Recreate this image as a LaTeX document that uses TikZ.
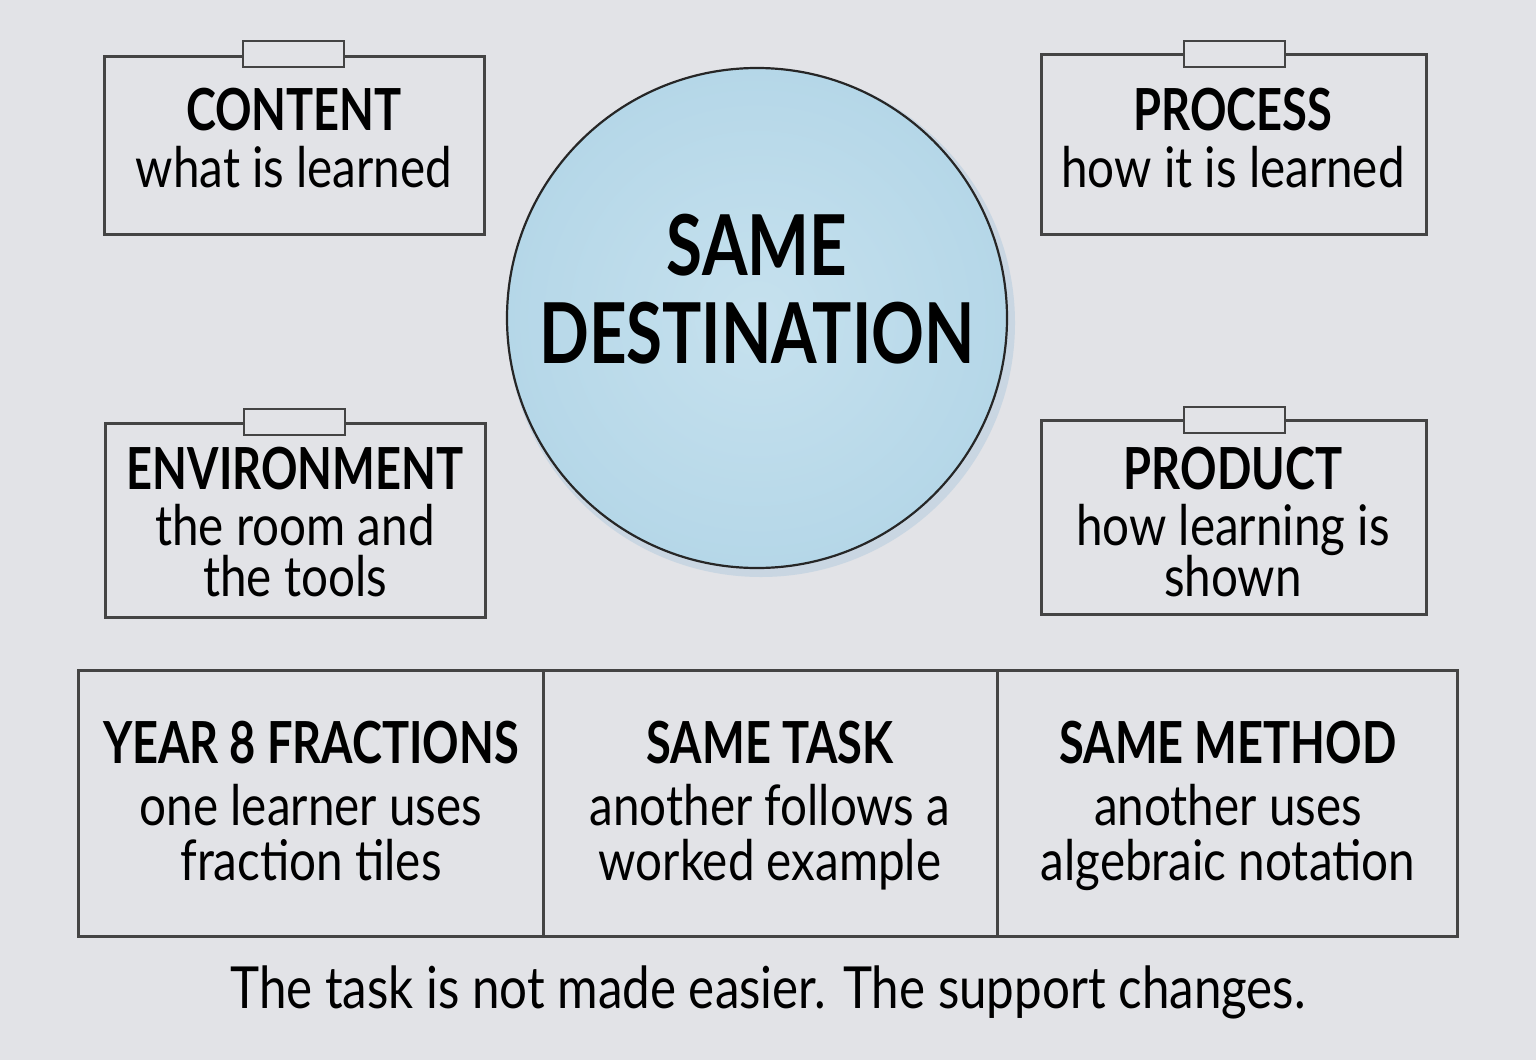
\documentclass[tikz,border=0pt]{standalone}
\usepackage{fontspec}
\setmainfont[FakeStretch=0.85, BoldFeatures={FakeStretch=0.78}]{Lato}
\definecolor{bg}{HTML}{E2E3E7}
\definecolor{ln}{HTML}{444444}
\definecolor{blu}{HTML}{B5D7E8}
\definecolor{blulight}{HTML}{C6E1EE}
\definecolor{halo}{HTML}{C9D6E2}
\tikzset{
  card/.style={draw=ln, line width=1.5pt, fill=none},
  tab/.style={draw=ln, line width=1.2pt, fill=bg},
  ttl/.style={anchor=base, font=\fontsize{29}{29}\selectfont\bfseries, inner sep=0pt},
  sub/.style={anchor=base, font=\fontsize{28}{28}\selectfont, inner sep=0pt},
}
\begin{document}
\begin{tikzpicture}[x=0.5pt,y=-0.5pt]
\fill[bg] (0,0) rectangle (1536,1060);
\useasboundingbox (0,0) rectangle (1536,1060);
% circle
\fill[halo] (761,323) circle[radius=254];
\shade[inner color=blulight, outer color=blu] (757,318) circle[radius=250];
\node[circle, draw=black!85, line width=1.1pt, minimum size=250pt, inner sep=0pt] (dest) at (757,318) {};
\node[anchor=base, inner sep=0pt, font=\fontsize{42}{42}\selectfont\bfseries] (dest1) at (757,275) {SAME};
\node[anchor=base, inner sep=0pt, font=\fontsize{42}{42}\selectfont\bfseries] (dest2) at (757,363) {DESTINATION};
% cards
\draw[card] (104,56) rectangle (484,234);
\draw[tab] (243,41) rectangle (344,67);
\node[ttl] (c1) at (294,130) {CONTENT};
\node[sub] (c2) at (294,187) {what is learned};
\draw[card] (1041,54) rectangle (1426,234);
\draw[tab] (1184,41) rectangle (1285,67);
\node[ttl] (p1) at (1233,130) {PROCESS};
\node[sub] (p2) at (1233,187) {how it is learned};
\draw[card] (105,423) rectangle (485,617);
\draw[tab] (244,409) rectangle (345,435);
\node[ttl] (e1) at (295,489) {ENVIRONMENT};
\node[sub] (e2) at (295,545) {the room and};
\node[sub] (e3) at (295,596) {the tools};
\draw[card] (1041,420) rectangle (1426,614);
\draw[tab] (1184,407) rectangle (1285,433);
\node[ttl] (r1) at (1233,489) {PRODUCT};
\node[sub] (r2) at (1233,545) {how learning is};
\node[sub] (r3) at (1233,596) {shown};
% table
\draw[card] (78,670) rectangle (1457,936);
\draw[card] (543,670) -- (543,936);
\draw[card] (997,670) -- (997,936);
\node[ttl] (t1) at (311,763) {YEAR 8 FRACTIONS};
\node[sub] (t2) at (311,825) {one learner uses};
\node[sub] (t3) at (311,880) {fraction tiles};
\node[ttl] (m1) at (770,763) {SAME TASK};
\node[sub] (m2) at (770,825) {another follows a};
\node[sub] (m3) at (770,880) {worked example};
\node[ttl] (n1) at (1228,763) {SAME METHOD};
\node[sub] (n2) at (1228,825) {another uses};
\node[sub] (n3) at (1228,880) {algebraic notation};
\node[sub, font=\fontsize{29}{29}\selectfont] (foot) at (768,1008) {The task is not made easier. The support changes.};
\end{tikzpicture}
\end{document}
